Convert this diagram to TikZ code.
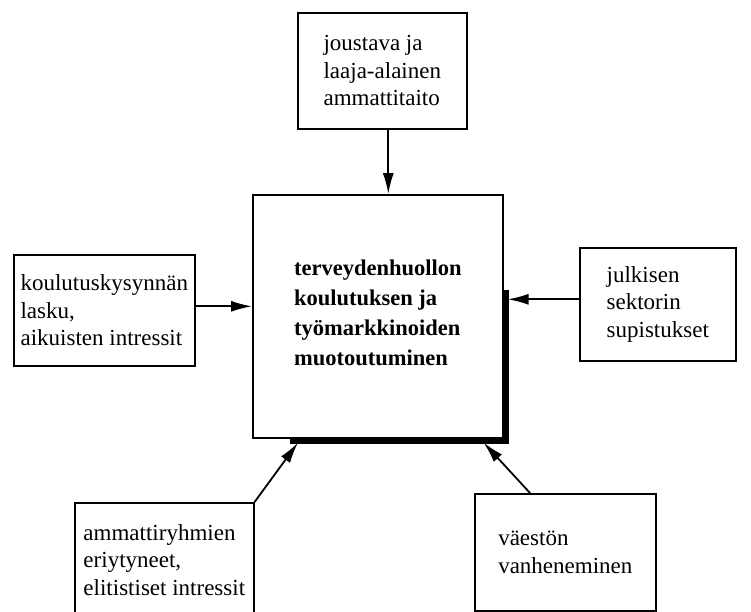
\documentclass[tikz,border=0pt]{standalone}
\usepackage{fontspec}
\setmainfont{Liberation Serif}
\usetikzlibrary{arrows.meta,calc}
\begin{document}
\begin{tikzpicture}[x=1pt,y=-1pt,
  box/.style={draw,line width=1.6pt,rectangle,anchor=north west,align=left,inner sep=0pt,
    font=\fontsize{23}{27.5}\selectfont},
  arr/.style={line width=1.8pt,-{Latex[length=21pt,width=11pt]}}]
\useasboundingbox (0,0) rectangle (751,611);
\clip (0,0) rectangle (751,611);
% central box with shadow
\node[box,minimum width=250pt,minimum height=243pt,
  font=\bfseries\fontsize{22.5}{30}\selectfont] (center) at (252,194)
  {\\[-22pt]terveydenhuollon\\koulutuksen ja\\työmarkkinoiden\\muotoutuminen};
\draw[line width=4.5pt] ($(center.north east)+(3,96)$) -- ($(center.south east)+(3,3)$)
  -- ($(center.south west)+(38,3)$);
% surrounding boxes
\node[box,minimum width=169pt,minimum height=116pt] (top) at (297,12)
  {joustava ja\\laaja-alainen\\ammattitaito};
\node[box,minimum width=181pt,minimum height=111pt] (left) at (13,254)
  {koulutuskysynnän\\lasku,\\aikuisten intressit};
\node[box,minimum width=156pt,minimum height=113pt] (right) at (579,247)
  {julkisen\\sektorin\\supistukset};
\node[box,minimum width=179pt,minimum height=114pt] (bl) at (74,502)
  {ammattiryhmien\\eriytyneet,\\elitistiset intressit};
\node[box,minimum width=181pt,minimum height=117pt] (br) at (474,493)
  {väestön\\vanheneminen};
% connectors
\draw[arr] ([xshift=6pt]top.south) -- ([xshift=6pt]top.south |- center.north);
\draw[arr] ([yshift=4pt]left.east) -- ([yshift=4pt]left.east -| center.west);
\draw[arr] ([yshift=5pt]right.west) -- ([yshift=5pt,xshift=4pt]right.west -| center.east);
\coordinate (blend) at ($(center.south west)+(46,4)$);
\coordinate (brend) at ($(center.south east)+(-20,4)$);
\draw[arr] (bl.north east) -- (blend);
\draw[arr] ([xshift=56pt]br.north west) -- (brend);
\end{tikzpicture}
\end{document}
